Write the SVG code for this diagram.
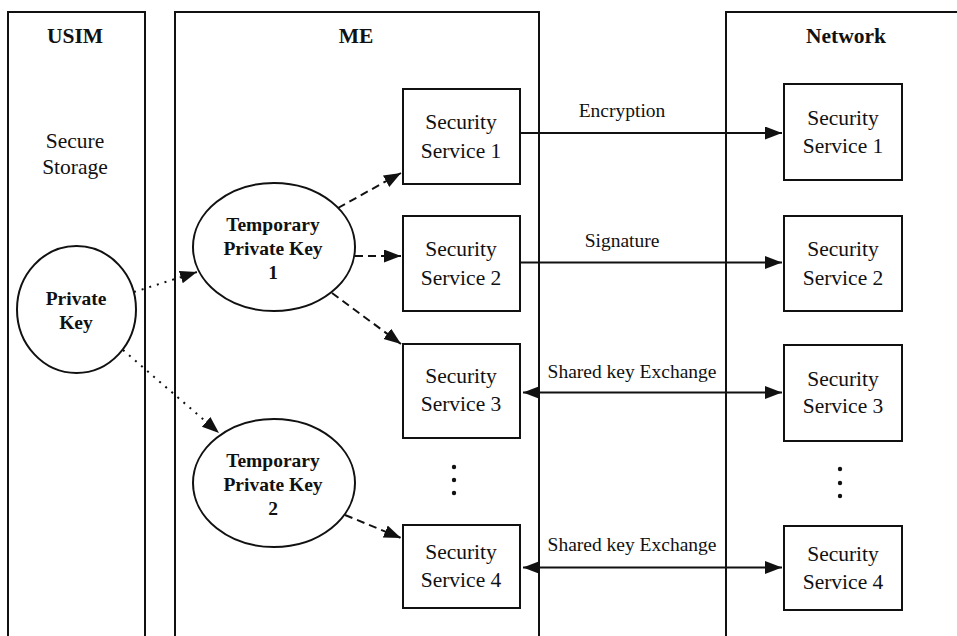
<svg xmlns="http://www.w3.org/2000/svg" width="957" height="636" viewBox="0 0 957 636">
  <style>
    .col { fill: none; stroke: #111; stroke-width: 2; }
    .box { fill: #fff; stroke: #111; stroke-width: 2; }
    .oval { fill: #fff; stroke: #111; stroke-width: 2; }
    .hdr { font-family: "Liberation Serif", "Times New Roman", serif; font-weight: bold; font-size: 21.5px; fill: #111; text-anchor: middle; }
    .key { font-family: "Liberation Serif", "Times New Roman", serif; font-weight: bold; font-size: 19.5px; fill: #111; text-anchor: middle; }
    .txt { font-family: "Liberation Serif", "Times New Roman", serif; font-size: 21.5px; fill: #111; text-anchor: middle; }
    .lbl { font-family: "Liberation Serif", "Times New Roman", serif; font-size: 19.5px; fill: #111; text-anchor: middle; }
    .solid { fill: none; stroke: #111; stroke-width: 2; }
    .dash { fill: none; stroke: #111; stroke-width: 2; stroke-dasharray: 8 5; }
    .dot { fill: none; stroke: #111; stroke-width: 2; stroke-dasharray: 2 6; }
    .ell { fill: #111; }
  </style>
  <defs>
    <marker id="head" markerUnits="userSpaceOnUse" markerWidth="18" markerHeight="14" refX="17" refY="6.5" orient="auto-start-reverse">
      <path d="M0,0 L17,6.5 L0,13 z" fill="#111"/>
    </marker>
  </defs>

  <rect width="957" height="636" fill="#fff"/>

  <!-- swimlane columns (open at the bottom) -->
  <g id="usim">
    <path class="col" d="M8,640 V12 H145 V640"/>
    <text class="hdr" x="75" y="43">USIM</text>
    <text class="txt" x="75" y="148">Secure</text>
    <text class="txt" x="75" y="174">Storage</text>
  </g>
  <g id="me">
    <path class="col" d="M175,640 V12 H539 V640"/>
    <text class="hdr" x="356" y="43">ME</text>
  </g>
  <g id="network">
    <path class="col" d="M726,640 V12 H960"/>
    <text class="hdr" x="846" y="43">Network</text>
  </g>

  <!-- connectors -->
  <g id="connectors">
    <path class="dot" d="M134,292 L197,272" marker-end="url(#head)"/>
    <path class="dot" d="M123,350 L219,433" marker-end="url(#head)"/>
    <path class="dash" d="M338,208 L401,173" marker-end="url(#head)"/>
    <path class="dash" d="M355,256 L401,256" marker-end="url(#head)"/>
    <path class="dash" d="M332,293 L401,344" marker-end="url(#head)"/>
    <path class="dash" d="M345,515 L401,538" marker-end="url(#head)"/>
    <path class="solid" d="M520,133 H782" marker-end="url(#head)"/>
    <path class="solid" d="M520,262.5 H782" marker-end="url(#head)"/>
    <path class="solid" d="M523,392.5 H782" marker-start="url(#head)" marker-end="url(#head)"/>
    <path class="solid" d="M523,567.5 H782" marker-start="url(#head)" marker-end="url(#head)"/>
    <text class="lbl" x="622" y="117">Encryption</text>
    <text class="lbl" x="622" y="247">Signature</text>
    <text class="lbl" x="632" y="378">Shared key Exchange</text>
    <text class="lbl" x="632" y="551">Shared key Exchange</text>
  </g>

  <!-- keys -->
  <g id="private-key">
    <ellipse class="oval" cx="76.5" cy="309.5" rx="59.5" ry="63.5"/>
    <text class="key" x="76" y="305">Private</text>
    <text class="key" x="76" y="329">Key</text>
  </g>
  <g id="temp-key-1">
    <ellipse class="oval" cx="274" cy="247" rx="81" ry="64"/>
    <text class="key" x="273" y="231">Temporary</text>
    <text class="key" x="273" y="255">Private Key</text>
    <text class="key" x="273" y="279">1</text>
  </g>
  <g id="temp-key-2">
    <ellipse class="oval" cx="274" cy="483" rx="81" ry="64"/>
    <text class="key" x="273" y="467">Temporary</text>
    <text class="key" x="273" y="491">Private Key</text>
    <text class="key" x="273" y="515">2</text>
  </g>

  <!-- ME-side services -->
  <g id="me-service-1">
    <rect class="box" x="403" y="89" width="117" height="95"/>
    <text class="txt" x="461" y="129">Security</text>
    <text class="txt" x="461" y="158">Service 1</text>
  </g>
  <g id="me-service-2">
    <rect class="box" x="403" y="216" width="117" height="95"/>
    <text class="txt" x="461" y="256">Security</text>
    <text class="txt" x="461" y="285">Service 2</text>
  </g>
  <g id="me-service-3">
    <rect class="box" x="403" y="344" width="117" height="94"/>
    <text class="txt" x="461" y="383">Security</text>
    <text class="txt" x="461" y="411">Service 3</text>
  </g>
  <g id="me-ellipsis">
    <circle class="ell" cx="454" cy="467" r="2.2"/>
    <circle class="ell" cx="454" cy="480" r="2.2"/>
    <circle class="ell" cx="454" cy="493" r="2.2"/>
  </g>
  <g id="me-service-4">
    <rect class="box" x="403" y="525" width="117" height="83"/>
    <text class="txt" x="461" y="559">Security</text>
    <text class="txt" x="461" y="587">Service 4</text>
  </g>

  <!-- network-side services -->
  <g id="net-service-1">
    <rect class="box" x="784" y="84" width="118" height="96"/>
    <text class="txt" x="843" y="125">Security</text>
    <text class="txt" x="843" y="153">Service 1</text>
  </g>
  <g id="net-service-2">
    <rect class="box" x="784" y="216" width="118" height="95"/>
    <text class="txt" x="843" y="256">Security</text>
    <text class="txt" x="843" y="285">Service 2</text>
  </g>
  <g id="net-service-3">
    <rect class="box" x="784" y="345" width="118" height="96"/>
    <text class="txt" x="843" y="386">Security</text>
    <text class="txt" x="843" y="413">Service 3</text>
  </g>
  <g id="net-ellipsis">
    <circle class="ell" cx="840" cy="469" r="2.2"/>
    <circle class="ell" cx="840" cy="483" r="2.2"/>
    <circle class="ell" cx="840" cy="496" r="2.2"/>
  </g>
  <g id="net-service-4">
    <rect class="box" x="784" y="526" width="118" height="84"/>
    <text class="txt" x="843" y="561">Security</text>
    <text class="txt" x="843" y="589">Service 4</text>
  </g>
</svg>
